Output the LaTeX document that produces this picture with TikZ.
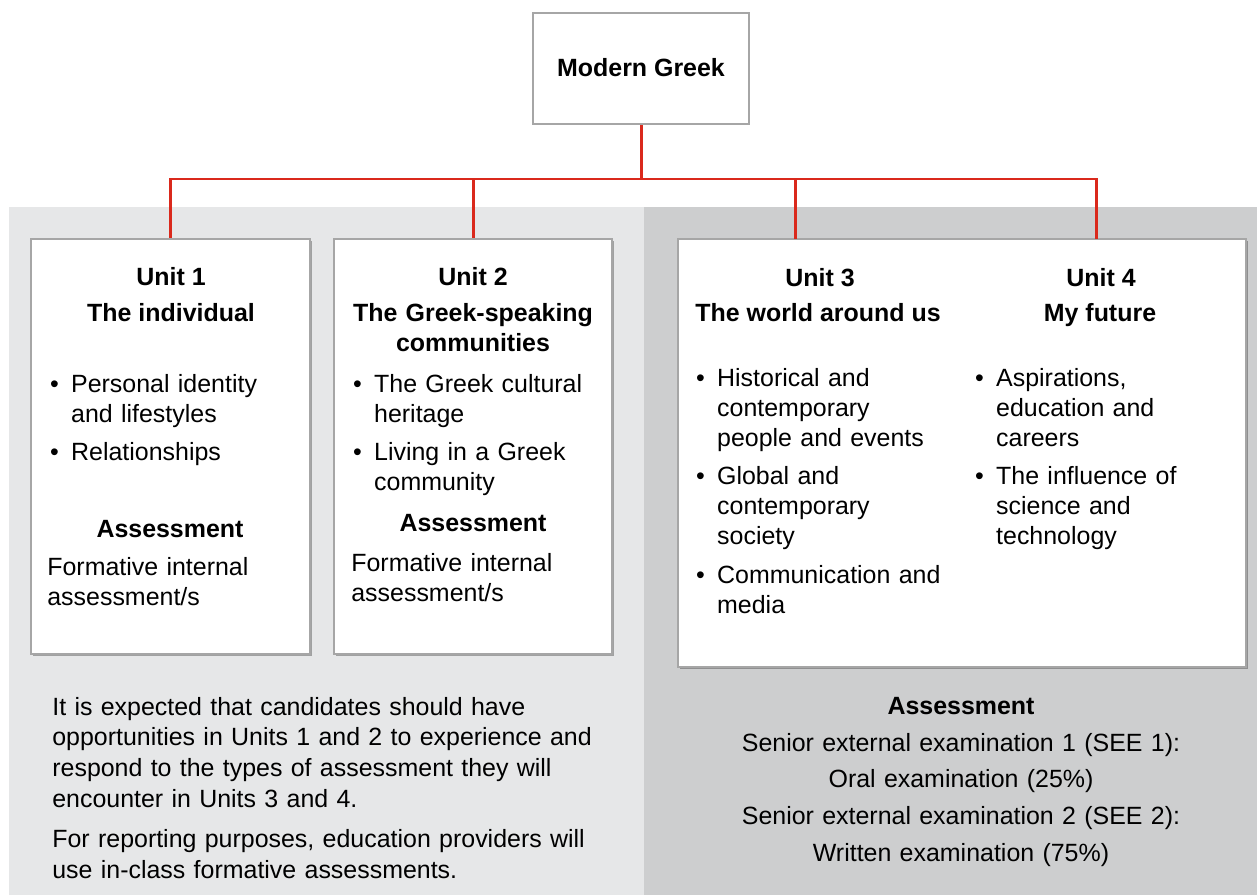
\documentclass[tikz,border=0pt]{standalone}
\usepackage{fontspec}
\setmainfont{Liberation Sans}
\usetikzlibrary{positioning,fit,shadows}

\definecolor{linkred}{RGB}{218,41,28}
\definecolor{panelA}{RGB}{230,231,232}
\definecolor{panelB}{RGB}{205,206,207}
\definecolor{boxline}{RGB}{166,166,166}

% bullet with hanging indent (break lines with \newline)
\newcommand{\bitem}[1]{\hangindent=13pt\hangafter=1\noindent\makebox[13pt][l]{\hspace{1pt}\textbullet}#1\par}

\begin{document}
\begin{tikzpicture}[x=0.02cm, y=-0.02cm,
    unitbox/.style={draw=boxline, line width=1.3pt, fill=white, inner sep=0pt,
        drop shadow={shadow xshift=1.2pt, shadow yshift=-1.2pt, fill=black, opacity=.3}},
    link/.style={linkred, line width=1.7pt},
    head/.style={font=\fontsize{14.2}{20.5}\selectfont\bfseries, anchor=base, inner sep=0pt, align=center},
    body/.style={font=\fontsize{14.2}{17.1}\selectfont, anchor=base west, inner sep=0pt, text width=5.2cm, align=left}]
    \useasboundingbox (0,0) rectangle (1257,895);

    % background panels
    \fill[panelA] (9,207) rectangle (644,895);
    \fill[panelB] (644,207) rectangle (1257,895);

    % boxes
    \node[draw=boxline, line width=1.5pt, fill=white, inner sep=0pt, fit={(533,13) (749,124)}] (title) {};
    \node[unitbox, fit={(31,239) (310,654)}] (u1) {};
    \node[unitbox, fit={(334,239) (612,654)}] (u2) {};
    \node[unitbox, fit={(678,239) (1246,667)}] (u34) {};
    \coordinate (d3) at (795,239);
    \coordinate (d4) at (1096,239);
    \coordinate (bus) at (641,179);

    % connectors
    \draw[link] (title) -- (title |- bus);
    \draw[link] (u1.north) -- (u1.north |- bus) -- (d4 |- bus) -- (d4);
    \draw[link] (u2.north) -- (u2.north |- bus);
    \draw[link] (d3) -- (d3 |- bus);

    % title
    \node[head] (tname) at (641,77) {Modern Greek};

    % Unit 1
    \node[head] (u1num) at (171,285) {Unit 1};
    \node[head] (u1name) at (171,321) {The individual};
    \node[body] (u1list) at (48,392) {\setlength{\parskip}{4.8pt}%
        \bitem{Personal identity\newline and lifestyles}
        \bitem{Relationships}};
    \node[head] (u1ass) at (170,537) {Assessment};
    \node[body] (u1form) at (47,575) {Formative internal\\assessment/s};

    % Unit 2
    \node[head] (u2num) at (473,285) {Unit 2};
    \node[head, text width=6cm, font=\fontsize{14.2}{17.6}\selectfont\bfseries] (u2name) at (473,321) {The Greek-speaking\\communities};
    \node[body] (u2list) at (351,392) {\setlength{\parskip}{4.8pt}%
        \bitem{The Greek cultural\newline heritage}
        \bitem{Living in a Greek\newline community}};
    \node[head] (u2ass) at (473,531) {Assessment};
    \node[body] (u2form) at (351,571) {Formative internal\\assessment/s};

    % Units 3 and 4
    \node[head] (u3num) at (820,286) {Unit 3};
    \node[head] (u3name) at (818,321) {The world around us};
    \node[body] (u3list) at (694,386) {\setlength{\parskip}{4.8pt}%
        \bitem{Historical and\newline contemporary\newline people and events}
        \bitem{Global and\newline contemporary\newline society}
        \bitem{Communication and\newline media}};
    \node[head] (u4num) at (1101,286) {Unit 4};
    \node[head] (u4name) at (1100,321) {My future};
    \node[body] (u4list) at (973,386) {\setlength{\parskip}{4.8pt}%
        \bitem{Aspirations,\newline education and\newline careers}
        \bitem{The influence of\newline science and\newline technology}};

    % notes under the boxes
    \node[body, text width=11cm, font=\fontsize{14.2}{17.6}\selectfont] (note) at (52,715) {\setlength{\parskip}{5pt}%
        It is expected that candidates should have\\
        opportunities in Units 1 and 2 to experience and\\
        respond to the types of assessment they will\\
        encounter in Units 3 and 4.\par
        For reporting purposes, education providers will\\
        use in-class formative assessments.};
    \node[head] (u34ass) at (961,714) {Assessment};
    \node[body, anchor=base, align=center, text width=10cm, font=\fontsize{14.2}{21}\selectfont] (exams) at (961,751) {%
        Senior external examination 1 (SEE 1):\\
        Oral examination (25\%)\\
        Senior external examination 2 (SEE 2):\\
        Written examination (75\%)};
\end{tikzpicture}
\end{document}
